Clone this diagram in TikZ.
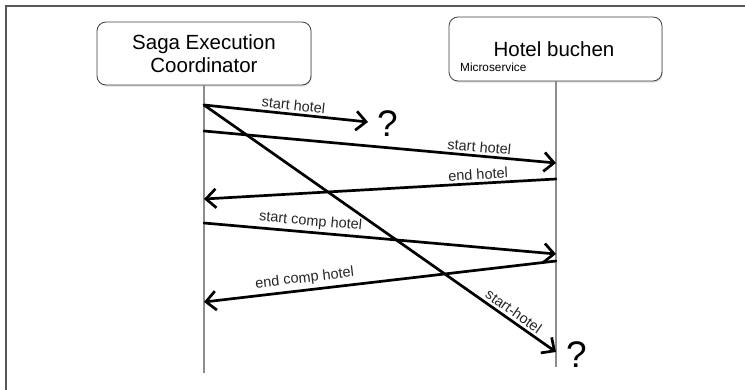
\documentclass[tikz,border=0pt]{standalone}
\usepackage{fontspec}
\setmainfont{Liberation Sans}
\usetikzlibrary{arrows.meta,shadows}
\begin{document}
\begin{tikzpicture}[x=1pt,y=-1pt,
  actor/.style={draw=black!75, line width=0.8pt, rounded corners=9pt, fill=white,
    minimum width=214pt, minimum height=63pt, inner sep=0pt,
    drop shadow={shadow xshift=0.8pt, shadow yshift=-1.6pt, opacity=0.25}},
  lifeline/.style={draw=black!45, line width=1.2pt},
  msg/.style={line width=2.7pt, line cap=round, -{Straight Barb[length=10pt,width=19pt]}},
  rmsg/.style={line width=2.7pt, line cap=round, {Straight Barb[length=10pt,width=19pt]}-},
  lbl/.style={font=\fontsize{14.5}{16}\selectfont, text=black!85, inner sep=2.5pt, sloped, above},
  qmark/.style={font=\fontsize{37}{39}\selectfont, anchor=base west, inner sep=0pt},
]
\useasboundingbox (0,0) rectangle (745,390);
\draw[black!65, line width=2pt] (6,390) -- (6,6) -- (745,6);

% actors
\node[actor] (sec) at (204,53.5) {};
\node[align=center, font=\fontsize{20.5}{22.5}\selectfont] (sectext) at (204,53.5) {Saga Execution\\Coordinator};
\node[actor, minimum width=213pt, minimum height=64pt] (hb) at (555.5,49) {};
\node[anchor=base, font=\fontsize{20.5}{22.5}\selectfont, inner sep=0pt] (hbtext) at (554,57) {Hotel buchen};
\node[anchor=base west, font=\fontsize{11.8}{13}\selectfont, inner sep=0pt] (hbsub) at (460,72) {Microservice};

% lifelines
\coordinate (secend) at (204,373);
\coordinate (hbend) at (556,367);
\draw[lifeline] (sec.south) -- (secend);
\draw[lifeline] (hb.south -| hbend) -- (hbend);

% message points
\coordinate (a1) at (204,105);
\coordinate (e1) at (368,122);
\coordinate (a2) at (204,131);
\coordinate (b2) at (556,163);
\coordinate (b3) at (556,179);
\coordinate (a3) at (204,199);
\coordinate (e4) at (556,352);
\coordinate (a5) at (204,223);
\coordinate (b5) at (556,254);
\coordinate (b6) at (556,261);
\coordinate (a6) at (204,302);

\node[qmark] (q1) at (377,137) {?};
\node[qmark] (q2) at (566,367) {?};

\draw[msg] (a1) -- (e1) node[lbl, pos=0.54] {start hotel};
\draw[msg] (a2) -- (b2) node[lbl, pos=0.78] {start hotel};
\draw[rmsg] (a3) -- (b3) node[lbl, pos=0.78] {end hotel};
\draw[msg] (a1) -- (e4) node[lbl, pos=0.865] {start-hotel};
\draw[msg] (a5) -- (b5) node[lbl, pos=0.30] {start comp hotel};
\draw[rmsg] (a6) -- (b6) node[lbl, pos=0.29, inner sep=3.5pt] {end comp hotel};
\end{tikzpicture}
\end{document}
